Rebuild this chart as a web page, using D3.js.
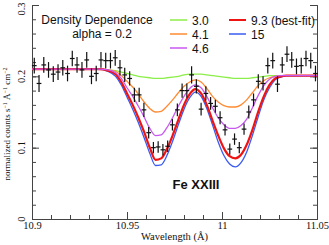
<!DOCTYPE html>
<html>
<head>
<meta charset="utf-8">
<script src="https://cdn.jsdelivr.net/npm/d3@7"></script>
<style>
  html, body { margin: 0; padding: 0; background: #fff; }
  svg { display: block; }
</style>
</head>
<body>
<div id="chart"></div>
<script>
// ---- data ----
const wavelengths = [
  10.9012, 10.9037, 10.9062, 10.9087, 10.9112, 10.9137, 10.9162, 10.9187, 10.9212, 10.9237,
  10.9263, 10.9288, 10.9313, 10.9338, 10.9363, 10.9388, 10.9413, 10.9438, 10.9463, 10.9488,
  10.9514, 10.9539, 10.9564, 10.9589, 10.9614, 10.9639, 10.9664, 10.9689, 10.9714, 10.9739,
  10.9765, 10.9790, 10.9815, 10.9840, 10.9865, 10.9890, 10.9915, 10.9940, 10.9965, 10.9990,
  11.0016, 11.0041, 11.0066, 11.0091, 11.0116, 11.0141, 11.0166, 11.0191, 11.0216, 11.0241,
  11.0267, 11.0292, 11.0317, 11.0342, 11.0367, 11.0392, 11.0417, 11.0442, 11.0467, 11.0492
];
const counts = [
  0.215, 0.190, 0.216, 0.209, 0.203, 0.206, 0.212, 0.204, 0.225, 0.216,
  0.209, 0.223, 0.200, 0.204, 0.223, 0.222, 0.222, 0.226, 0.212, 0.202,
  0.197, 0.174, 0.174, 0.153, 0.121, 0.100, 0.101, 0.097, 0.102, 0.132,
  0.153, 0.180, 0.180, 0.202, 0.186, 0.154, 0.176, 0.162, 0.158, 0.142,
  0.125, 0.098, 0.112, 0.100, 0.126, 0.150, 0.167, 0.193, 0.190, 0.215,
  0.222, 0.189, 0.216, 0.231, 0.223, 0.214, 0.215, 0.225, 0.222, 0.204
];
const countErr = [
  0.011, 0.012, 0.011, 0.011, 0.011, 0.011, 0.011, 0.011, 0.011, 0.011,
  0.011, 0.011, 0.011, 0.011, 0.011, 0.011, 0.011, 0.011, 0.011, 0.010,
  0.010, 0.010, 0.010, 0.010, 0.008, 0.008, 0.008, 0.008, 0.008, 0.008,
  0.009, 0.010, 0.010, 0.012, 0.010, 0.009, 0.010, 0.009, 0.009, 0.009,
  0.008, 0.008, 0.008, 0.008, 0.008, 0.009, 0.009, 0.010, 0.010, 0.011,
  0.011, 0.011, 0.011, 0.011, 0.011, 0.011, 0.011, 0.011, 0.011, 0.011
];

// model grid
const modelWave = [
  10.900, 10.935, 10.940, 10.944, 10.947, 10.950, 10.953, 10.956, 10.959, 10.962,
  10.965, 10.968, 10.971, 10.974, 10.977, 10.980, 10.983, 10.986, 10.989, 10.992,
  10.995, 10.998, 11.001, 11.004, 11.007, 11.010, 11.013, 11.016, 11.019, 11.022,
  11.025, 11.028, 11.031, 11.034, 11.050
];
const model30 = [
  0.210, 0.210, 0.209, 0.208, 0.206, 0.204, 0.202, 0.200, 0.199, 0.198,
  0.197, 0.197, 0.198, 0.199, 0.200, 0.202, 0.203, 0.203, 0.203, 0.202,
  0.201, 0.200, 0.199, 0.198, 0.197, 0.197, 0.197, 0.198, 0.199, 0.200,
  0.201, 0.201, 0.201, 0.201, 0.201
];
const model41 = [
  0.210, 0.210, 0.209, 0.207, 0.201, 0.193, 0.185, 0.175, 0.164, 0.155,
  0.150, 0.151, 0.158, 0.167, 0.177, 0.186, 0.192, 0.195, 0.192, 0.183,
  0.172, 0.164, 0.159, 0.157, 0.157, 0.160, 0.167, 0.177, 0.187, 0.194,
  0.198, 0.200, 0.201, 0.201, 0.201
];
const model46 = [
  0.210, 0.210, 0.209, 0.205, 0.197, 0.184, 0.172, 0.158, 0.143, 0.127,
  0.117, 0.118, 0.128, 0.142, 0.158, 0.172, 0.183, 0.188, 0.184, 0.172,
  0.156, 0.142, 0.132, 0.127, 0.127, 0.131, 0.140, 0.156, 0.173, 0.187,
  0.196, 0.200, 0.201, 0.201, 0.201
];
const model93 = [
  0.210, 0.210, 0.208, 0.203, 0.192, 0.176, 0.160, 0.142, 0.122, 0.100,
  0.083, 0.085, 0.098, 0.117, 0.139, 0.160, 0.175, 0.182, 0.176, 0.160,
  0.138, 0.117, 0.099, 0.088, 0.085, 0.090, 0.104, 0.125, 0.150, 0.172,
  0.188, 0.197, 0.200, 0.201, 0.201
];
const model15 = [
  0.210, 0.210, 0.207, 0.200, 0.188, 0.171, 0.154, 0.135, 0.114, 0.092,
  0.075, 0.076, 0.089, 0.109, 0.132, 0.154, 0.170, 0.178, 0.172, 0.155,
  0.132, 0.108, 0.089, 0.077, 0.073, 0.079, 0.094, 0.117, 0.143, 0.167,
  0.184, 0.195, 0.199, 0.201, 0.201
];

const seriesNames = ["3.0", "4.1", "4.6", "9.3 (best-fit)", "15"];
const xTickValues = [10.9, 10.95, 11, 11.05];
const xTickLabels = ["10.9", "10.95", "11", "11.05"];
const yTickValues = [0, 0.1, 0.2, 0.3];
const yTickLabels = ["0", "0.1", "0.2", "0.3"];

// ---- layout ----
const W = 329, H = 245;
const margin = { top: 5, right: 12, bottom: 26, left: 32 };
const serif = "'Liberation Serif', 'Times New Roman', serif";
const sans = "'Liberation Sans', Arial, Helvetica, sans-serif";
const axisColor = "#444";

const svg = d3.select("#chart").append("svg")
  .attr("width", W).attr("height", H);

const x = d3.scaleLinear().domain([10.9, 11.05]).range([margin.left, W - margin.right]);
const y = d3.scaleLinear().domain([0, 0.3]).range([H - margin.bottom, margin.top]);

function styleAxis(gEl) {
  gEl.select(".domain").attr("stroke", axisColor).attr("stroke-width", 1);
  gEl.selectAll("line").attr("stroke", axisColor).attr("stroke-width", 1);
}

// bottom axis: minor + major, ticks pointing inward
svg.append("g")
  .attr("transform", `translate(0,${y(0)})`)
  .call(d3.axisBottom(x).tickValues(x.ticks(15)).tickSize(-4).tickFormat(""))
  .call(styleAxis);
svg.append("g")
  .attr("transform", `translate(0,${y(0)})`)
  .call(d3.axisBottom(x).tickValues(xTickValues).tickSize(-7).tickPadding(3)
    .tickFormat((d, i) => xTickLabels[i]))
  .call(styleAxis)
  .call(g => g.selectAll("text")
    .attr("fill", "#111")
    .style("font-family", serif)
    .style("font-size", "10.5px"));

// left axis
svg.append("g")
  .attr("transform", `translate(${x(10.9)},0)`)
  .call(d3.axisLeft(y).tickValues(y.ticks(15)).tickSize(-4).tickFormat(""))
  .call(styleAxis);
svg.append("g")
  .attr("transform", `translate(${x(10.9)},0)`)
  .call(d3.axisLeft(y).tickValues(yTickValues).tickSize(-7).tickFormat(""))
  .call(styleAxis);

// rotated y tick labels (top one nudged down so it stays inside the page)
svg.append("g").selectAll("text")
  .data(yTickValues)
  .join("text")
  .attr("transform", d => `translate(${x(10.9) - 7},${Math.max(y(d), 9)}) rotate(-90)`)
  .attr("text-anchor", "middle")
  .attr("fill", "#111")
  .style("font-family", serif)
  .style("font-size", "10.5px")
  .text((d, i) => yTickLabels[i]);

// right axis
svg.append("g")
  .attr("transform", `translate(${x(11.05)},0)`)
  .call(d3.axisRight(y).tickValues(y.ticks(15)).tickSize(-4).tickFormat(""))
  .call(styleAxis);
svg.append("g")
  .attr("transform", `translate(${x(11.05)},0)`)
  .call(d3.axisRight(y).tickValues(yTickValues).tickSize(-7).tickFormat(""))
  .call(styleAxis);

// axis titles
svg.append("text")
  .attr("x", (x(10.9) + x(11.05)) / 2)
  .attr("y", 240)
  .attr("text-anchor", "middle")
  .attr("fill", "#111")
  .style("font-family", serif)
  .style("font-size", "10.5px")
  .text("Wavelength (Å)");

const yLab = svg.append("text")
  .attr("transform", "translate(10,124) rotate(-90)")
  .attr("text-anchor", "middle")
  .attr("fill", "#111")
  .style("font-family", serif)
  .style("font-size", "9px");
yLab.append("tspan").text("normalized counts s");
yLab.append("tspan").attr("dy", -3.5).style("font-size", "6px").text("−1");
yLab.append("tspan").attr("dy", 3.5).text(" Å");
yLab.append("tspan").attr("dy", -3.5).style("font-size", "6px").text("−1");
yLab.append("tspan").attr("dy", 3.5).text(" cm");
yLab.append("tspan").attr("dy", -3.5).style("font-size", "6px").text("−2");

// ---- model curves ----
const models = [
  { vals: model30, color: "#8cee48", width: 1.3 },
  { vals: model41, color: "#ff8a32", width: 1.3 },
  { vals: model15, color: "#3a5cf0", width: 1.3 },
  { vals: model93, color: "#ee1414", width: 2.2 },
  { vals: model46, color: "#c858f0", width: 1.3 }
];

const line = d3.line()
  .x(d => x(d[0]))
  .y(d => y(d[1]))
  .curve(d3.curveMonotoneX);

models.forEach(m => {
  svg.append("path")
    .datum(modelWave.map((w, i) => [w, m.vals[i]]))
    .attr("fill", "none")
    .attr("stroke", m.color)
    .attr("stroke-width", m.width)
    .attr("stroke-linejoin", "round")
    .attr("d", line);
});

// ---- data crosses ----
const halfBin = 0.00125;
const pts = svg.append("g").attr("stroke", "#111").attr("stroke-width", 1.2);
wavelengths.forEach((w, i) => {
  pts.append("line")
    .attr("x1", x(w)).attr("x2", x(w))
    .attr("y1", y(counts[i] - countErr[i])).attr("y2", y(counts[i] + countErr[i]));
  pts.append("line")
    .attr("x1", x(w - halfBin)).attr("x2", x(w + halfBin))
    .attr("y1", y(counts[i])).attr("y2", y(counts[i]));
});

// ---- annotations ----
svg.append("text")
  .attr("x", 97).attr("y", 24)
  .attr("text-anchor", "middle")
  .attr("fill", "#111")
  .style("font-family", sans)
  .style("font-size", "12px")
  .text("Density Dependence");
svg.append("text")
  .attr("x", 102).attr("y", 37.5)
  .attr("text-anchor", "middle")
  .attr("fill", "#111")
  .style("font-family", sans)
  .style("font-size", "12px")
  .text("alpha = 0.2");
svg.append("text")
  .attr("x", 196).attr("y", 189)
  .attr("text-anchor", "middle")
  .attr("fill", "#111")
  .style("font-family", sans)
  .style("font-size", "13px")
  .style("font-weight", "bold")
  .text("Fe XXIII");

// ---- legend ----
const legendColors = ["#8cee48", "#ff8a32", "#c858f0", "#ee1414", "#3a5cf0"];
const legendPos = [[170, 20], [170, 34], [170, 48], [229, 20], [229, 34]];
const leg = svg.append("g");
seriesNames.forEach((name, i) => {
  const [lx, ly] = legendPos[i];
  leg.append("line")
    .attr("x1", lx).attr("x2", lx + 17)
    .attr("y1", ly).attr("y2", ly)
    .attr("stroke", legendColors[i])
    .attr("stroke-width", i === 3 ? 2 : 1.5);
  leg.append("text")
    .attr("x", lx + 22).attr("y", ly + 4.5)
    .attr("fill", "#111")
    .style("font-family", sans)
    .style("font-size", "12px")
    .text(name);
});
</script>
</body>
</html>
